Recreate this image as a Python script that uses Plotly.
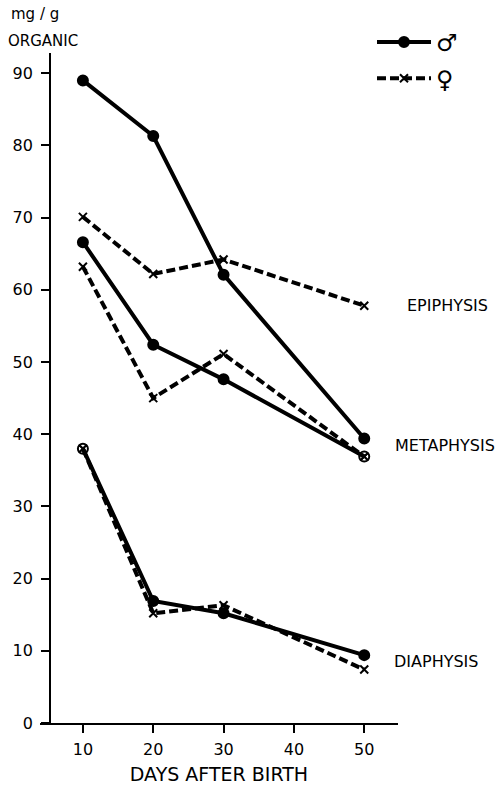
import plotly.graph_objects as go

days = [10, 20, 30, 50]

epi_male = [89.0, 81.3, 62.1, 39.4]
epi_female = [70.1, 62.2, 64.2, 57.8]
meta_male = [66.6, 52.4, 47.6, 36.9]
meta_female = [63.2, 45.0, 51.1, 36.9]
dia_male = [38.0, 16.9, 15.2, 9.4]
dia_female = [38.0, 15.2, 16.3, 7.4]

# points where male and female coincide are drawn as a circled cross
meta_male_sym = ["circle", "circle", "circle", "circle-x-open"]
dia_male_sym = ["circle-x-open", "circle", "circle", "circle"]

x_ticks = [10, 20, 30, 40, 50]
y_ticks = [0, 10, 20, 30, 40, 50, 60, 70, 80, 90]

region_labels = ["EPIPHYSIS", "METAPHYSIS", "DIAPHYSIS"]

FONT = "DejaVu Sans"
BLACK = "black"

fig = go.Figure()

def male_trace(y, symbols=None, show=False):
    syms = symbols if symbols else "circle"
    return go.Scatter(
        x=days, y=y, mode="lines+markers",
        line=dict(color=BLACK, width=4),
        marker=dict(symbol=syms, size=10, color=BLACK,
                    line=dict(color=BLACK, width=2)),
        name="♂", showlegend=show, legendgroup="m",
    )

def female_trace(y, show=False):
    return go.Scatter(
        x=days, y=y, mode="lines+markers",
        line=dict(color=BLACK, width=4, dash="9px,4px"),
        marker=dict(symbol="x-thin", size=8, color=BLACK,
                    line=dict(color=BLACK, width=2)),
        name="♀", showlegend=show, legendgroup="f",
    )

fig.add_trace(female_trace(epi_female, show=False))
fig.add_trace(female_trace(meta_female))
fig.add_trace(female_trace(dia_female))
fig.add_trace(male_trace(epi_male, show=True))
fig.add_trace(male_trace(meta_male, meta_male_sym))
fig.add_trace(male_trace(dia_male, dia_male_sym))
# legend entry for female
fig.add_trace(go.Scatter(
    x=[None], y=[None], mode="lines+markers",
    line=dict(color=BLACK, width=4, dash="9px,4px"),
    marker=dict(symbol="x-thin", size=8, color=BLACK, line=dict(color=BLACK, width=2)),
    name="♀", showlegend=True, legendgroup="f",
))

# region labels at the right
label_y = [57.8, 38.5, 8.5]
label_x = [405, 393, 392]
for txt, yv, xp in zip(region_labels, label_y, label_x):
    fig.add_annotation(
        text=txt, xref="paper", x=(xp - 40) / 358, xanchor="left",
        yref="y", y=yv, yanchor="middle", showarrow=False,
        font=dict(family=FONT, size=16, color=BLACK),
    )

# y-axis title
fig.add_annotation(text="mg / g", xref="paper", yref="paper",
                   x=(35 - 40) / 358, y=(723 - 14) / 670, xanchor="center", yanchor="middle",
                   showarrow=False, font=dict(family=FONT, size=15, color=BLACK))
fig.add_annotation(text="ORGANIC", xref="paper", yref="paper",
                   x=(43 - 40) / 358, y=(723 - 41) / 670, xanchor="center", yanchor="middle",
                   showarrow=False, font=dict(family=FONT, size=15, color=BLACK))

fig.update_layout(
    width=502, height=786,
    margin=dict(l=40, r=104, t=53, b=63, autoexpand=False),
    paper_bgcolor="white", plot_bgcolor="white",
    font=dict(family=FONT, size=16, color=BLACK),
    showlegend=True,
    legend=dict(x=(372 - 40) / 358, y=(723 - 20) / 670, xanchor="left", yanchor="top",
                font=dict(family=FONT, size=24, color=BLACK),
                bgcolor="rgba(0,0,0,0)", itemwidth=54, tracegroupgap=2),
    xaxis=dict(
        range=[3.9, 54.8], tickvals=x_ticks, ticktext=[str(t) for t in x_ticks],
        showgrid=False, zeroline=False, showline=True, linecolor=BLACK, linewidth=2,
        ticks="outside", ticklen=8, tickwidth=2, tickcolor=BLACK,
        ticklabelstandoff=3,
        title=dict(text="DAYS AFTER BIRTH", font=dict(family=FONT, size=19), standoff=9),
        tickfont=dict(family=FONT, size=16),
    ),
    yaxis=dict(
        range=[0, 92.8], tickvals=y_ticks, ticktext=[str(t) for t in y_ticks],
        showgrid=False, zeroline=False, showline=True, linecolor=BLACK, linewidth=2,
        ticks="outside", ticklen=8, tickwidth=2, tickcolor=BLACK,
        ticklabelstandoff=5,
        anchor="free", position=0.028,
        tickfont=dict(family=FONT, size=16),
    ),
)

fig.write_html("out.html", config={"displayModeBar": False},
               post_script="document.body.style.margin='0px';")
